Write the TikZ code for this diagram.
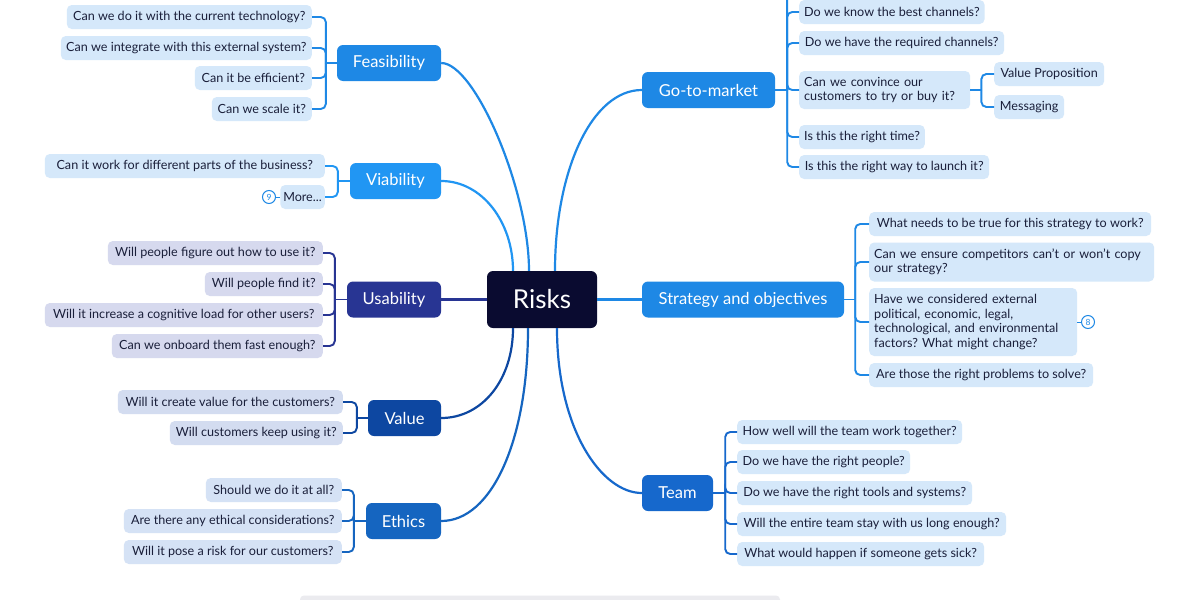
\documentclass[tikz,border=0pt]{standalone}
\usepackage{fontspec}
\setmainfont{Lato}
\frenchspacing
\definecolor{txt}{HTML}{1A1F3A}
\definecolor{cR}{HTML}{0A0B30}
\definecolor{cF}{HTML}{1E88E5}
\definecolor{cV}{HTML}{2196F3}
\definecolor{cU}{HTML}{283593}
\definecolor{cVa}{HTML}{0D47A1}
\definecolor{cE}{HTML}{1565C0}
\definecolor{cT}{HTML}{1668CC}
\definecolor{lb}{HTML}{D5E8FA}
\definecolor{lu}{HTML}{D6D9EE}
\definecolor{lva}{HTML}{D3DCF0}
\definecolor{le}{HTML}{D5E2F5}
\definecolor{barc}{HTML}{EBEBEF}
\tikzset{
  leaf/.style={fill=#1, rounded corners=5pt, minimum height=24pt, inner xsep=5pt, inner ysep=3pt,
    font=\fontsize{12.6}{14.6}\selectfont\frenchspacing, text=txt},
  leafL/.style={leaf=#1, anchor=east},
  leafR/.style={leaf=#1, anchor=west},
  topic/.style={fill=#1, rounded corners=6pt, minimum height=36pt, text=white,
    font=\fontsize{16.5}{19}\selectfont, inner sep=0pt},
  link/.style={draw=#1, line width=2.2pt},
  br/.style={draw=#1, line width=1.9pt, rounded corners=5pt},
  badge/.style={circle, draw=#1, line width=1pt, fill=white, inner sep=0pt, minimum size=13pt,
    font=\fontsize{8.5}{8.5}\selectfont, text=#1},
}
\begin{document}
\begin{tikzpicture}[x=1pt,y=-1pt]
\clip (0,0) rectangle (1200,600);
\fill[white] (0,0) rectangle (1200,600);
\fill[barc, rounded corners=4pt] (300,595.5) rectangle (780,612);

% central node
\node[fill=cR, rounded corners=6pt, minimum width=110pt, minimum height=57pt, inner sep=0pt,
  text=white, font=\fontsize{26}{30}\selectfont] (R) at (542,299.5) {Risks};

% topics
\node[topic=cF, minimum width=104pt] (F) at (389,63) {Feasibility};
\node[topic=cV, minimum width=91pt] (V) at (395.5,181) {Viability};
\node[topic=cU, minimum width=94pt] (U) at (394,299.5) {Usability};
\node[topic=cVa, minimum width=73pt] (Va) at (404.5,418) {Value};
\node[topic=cE, minimum width=75pt] (E) at (403.5,521) {Ethics};
\node[topic=cF, minimum width=133pt] (G) at (708.5,90) {Go-to-market};
\node[topic=cF, minimum width=202pt] (S) at (743,299.5) {Strategy and objectives};
\node[topic=cT, minimum width=71pt] (T) at (677.5,493) {Team};

% main connectors
\draw[link=cF] (F.east) .. controls (475,63) and ([xshift=-13pt]R.north |- 0,190) .. ([xshift=-13pt]R.north);
\draw[link=cV] (V.east) .. controls (482,181) and ([xshift=-29pt]R.north |- 0,222) .. ([xshift=-29pt]R.north);
\draw[link=cU] (U.east) -- (R.west);
\draw[link=cF] (G.west) .. controls (592,90) and ([xshift=13pt]R.north |- 0,170) .. ([xshift=13pt]R.north);
\draw[link=cF] (S.west) -- (R.east);
\draw[link=cVa] (Va.east) .. controls (482,418) and ([xshift=-29pt]R.south |- 0,380) .. ([xshift=-29pt]R.south);
\draw[link=cE] (E.east) .. controls (492,521) and ([xshift=-14pt]R.south |- 0,440) .. ([xshift=-14pt]R.south);
\draw[link=cT] (T.west) .. controls (602,493) and ([xshift=15pt]R.south |- 0,430) .. ([xshift=15pt]R.south);

% Feasibility leaves
\node[leafL=lb, minimum width=245pt] (f1) at (312,17) {Can we do it with the current technology?};
\node[leafL=lb, minimum width=251pt] (f2) at (312,48) {Can we integrate with this external system?};
\node[leafL=lb, minimum width=117pt] (f3) at (312,78) {Can it be efficient?};
\node[leafL=lb, minimum width=100pt] (f4) at (312,109) {Can we scale it?};
\draw[br=cF] (F.west) -- ([xshift=-11pt]F.west);
\foreach \c in {f1,f2,f3,f4} \draw[br=cF] ([xshift=-11pt]F.west) |- (\c.east);

% Viability leaves
\node[leafL=lb, minimum width=280pt] (v1) at (325,166) {Can it work for different parts of the business?};
\node[leafL=lb, minimum width=44pt, inner xsep=3pt] (vm) at (325,197) {More...};
\node[badge=cF] (n9) at (269,197) {9};
\draw[cF, line width=1pt] (n9.east) -- (vm.west);
\draw[br=cV] (V.west) -- ([xshift=-12pt]V.west);
\foreach \c in {v1,vm} \draw[br=cV] ([xshift=-12pt]V.west) |- (\c.east);

% Usability leaves
\node[leafL=lu, minimum width=215pt] (u1) at (323,253) {Will people figure out how to use it?};
\node[leafL=lu, minimum width=118pt] (u2) at (323,284) {Will people find it?};
\node[leafL=lu, minimum width=278pt] (u3) at (323,315) {Will it increase a cognitive load for other users?};
\node[leafL=lu, minimum width=211pt] (u4) at (323,346) {Can we onboard them fast enough?};
\draw[br=cU] (U.west) -- ([xshift=-12pt]U.west);
\foreach \c in {u1,u2,u3,u4} \draw[br=cU] ([xshift=-12pt]U.west) |- (\c.east);

% Value leaves
\node[leafL=lva, minimum width=225pt] (a1) at (343,402) {Will it create value for the customers?};
\node[leafL=lva, minimum width=173pt] (a2) at (343,433) {Will customers keep using it?};
\draw[br=cVa] (Va.west) -- ([xshift=-11pt]Va.west);
\foreach \c in {a1,a2} \draw[br=cVa] ([xshift=-11pt]Va.west) |- (\c.east);

% Ethics leaves
\node[leafL=le, minimum width=136pt] (e1) at (342,490) {Should we do it at all?};
\node[leafL=le, minimum width=218pt] (e2) at (342,521) {Are there any ethical considerations?};
\node[leafL=le, minimum width=218pt] (e3) at (342,552) {Will it pose a risk for our customers?};
\draw[br=cE] (E.west) -- ([xshift=-12pt]E.west);
\foreach \c in {e1,e2,e3} \draw[br=cE] ([xshift=-12pt]E.west) |- (\c.east);

% Go-to-market leaves
\node[leafR=lb, minimum width=185pt] (g1) at (799,12) {Do we know the best channels?};
\node[leafR=lb, minimum width=205pt] (g2) at (799,43) {Do we have the required channels?};
\node[leafR=lb, text width=161pt, minimum height=38pt, align=left] (g3) at (799,90) {\mbox{Can we convince our}\\\mbox{customers to try or buy it?}};
\node[leafR=lb, minimum width=125pt] (g4) at (799,137) {Is this the right time?};
\node[leafR=lb, minimum width=190pt] (g5) at (799,167) {Is this the right way to launch it?};
\node[leafR=lb, minimum width=110pt] (gv) at (994,74) {Value Proposition};
\node[leafR=lb, minimum width=70pt] (gm) at (994,107) {Messaging};
\coordinate (gtop) at (787,-30);
\draw[br=cF] (G.east) -- ([xshift=12pt]G.east);
\draw[br=cF] ([xshift=12pt]G.east) -- (gtop);
\foreach \c in {g1,g2,g3,g4,g5} \draw[br=cF] ([xshift=12pt]G.east) |- (\c.west);
\draw[br=cF] (g3.east) -- ([xshift=11pt]g3.east);
\foreach \c in {gv,gm} \draw[br=cF] ([xshift=11pt]g3.east) |- (\c.west);

% Strategy leaves
\node[leafR=lb, minimum width=282pt] (s1) at (869,224) {What needs to be true for this strategy to work?};
\node[leafR=lb, text width=275pt, minimum height=39pt, align=left] (s2) at (869,262) {\mbox{Can we ensure competitors can't or won't copy}\\\mbox{our strategy?}};
\node[leafR=lb, text width=198pt, minimum height=68pt, align=left] (s3) at (869,322) {\mbox{Have we considered external}\\\mbox{political, economic, legal,}\\\mbox{technological, and environmental}\\\mbox{factors? What might change?}};
\node[leafR=lb, minimum width=224pt] (s4) at (869,375) {Are those the right problems to solve?};
\node[badge=cF] (n8) at (1088,322) {8};
\draw[cF, line width=1pt] (s3.east) -- (n8.west);
\draw[br=cF] (S.east) -- ([xshift=11pt]S.east);
\foreach \c in {s1,s2,s3,s4} \draw[br=cF] ([xshift=11pt]S.east) |- (\c.west);

% Team leaves
\node[leafR=lb, minimum width=225pt] (t1) at (737,432) {How well will the team work together?};
\node[leafR=lb, minimum width=173pt] (t2) at (737,462) {Do we have the right people?};
\node[leafR=lb, minimum width=235pt] (t3) at (737,493) {Do we have the right tools and systems?};
\node[leafR=lb, minimum width=269pt] (t4) at (737,524) {Will the entire team stay with us long enough?};
\node[leafR=lb, minimum width=247pt] (t5) at (737,554) {What would happen if someone gets sick?};
\draw[br=cT] (T.east) -- ([xshift=12pt]T.east);
\foreach \c in {t1,t2,t3,t4,t5} \draw[br=cT] ([xshift=12pt]T.east) |- (\c.west);
\end{tikzpicture}
\end{document}
